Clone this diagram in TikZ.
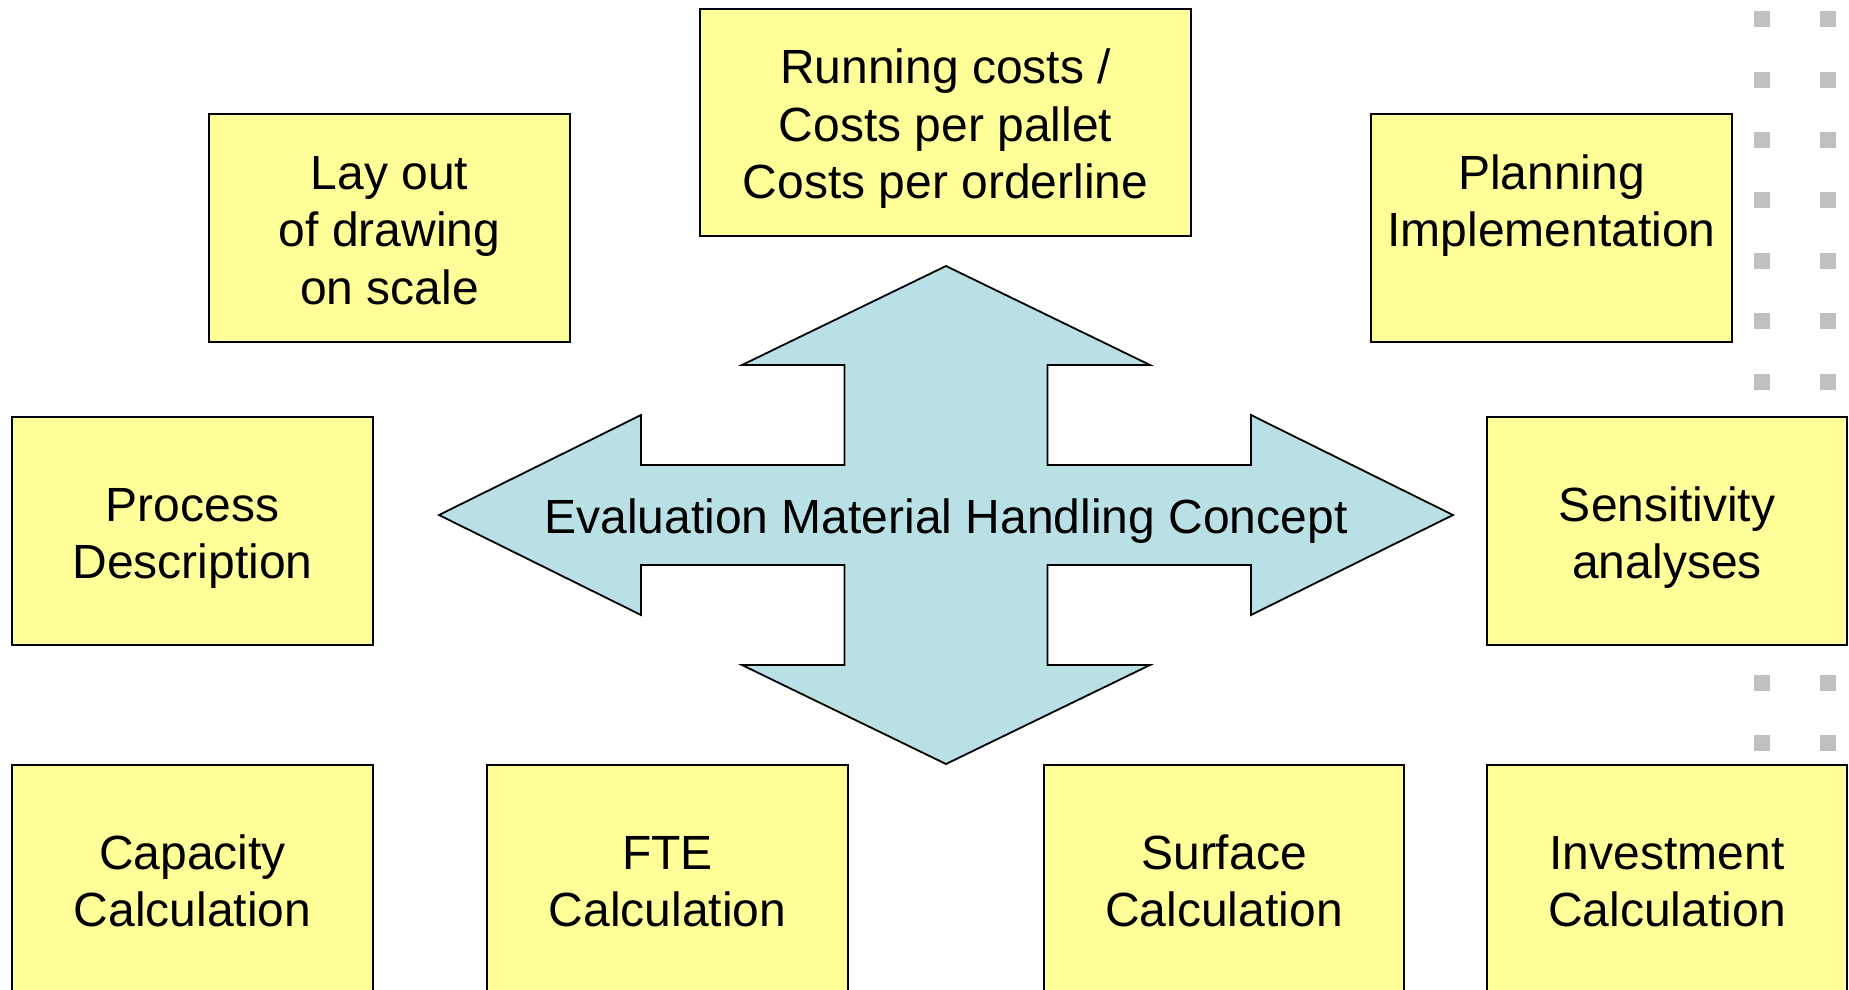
\documentclass[tikz,border=0pt]{standalone}
\usepackage{fontspec}
\setmainfont{Liberation Sans}
\definecolor{boxyellow}{RGB}{255,255,153}
\definecolor{arrowblue}{RGB}{185,224,228}
\definecolor{dotgrey}{RGB}{192,192,192}
\newcommand\linestrut{\rule[-10pt]{0pt}{57.6pt}}
\tikzset{
  infobox/.style={draw=black, line width=1.8pt, fill=boxyellow, align=center,
    minimum width=361pt, minimum height=228pt, inner sep=0pt,
    font=\fontsize{48pt}{57.6pt}\selectfont},
  bigarrow/.style={draw=black, line width=1.8pt, fill=arrowblue, line join=miter},
  greydot/.style={fill=dotgrey, draw=none, minimum size=16pt, inner sep=0pt}
}
\begin{document}
\begin{tikzpicture}[x=1pt, y=-1pt]
\useasboundingbox (0,0) rectangle (1849,989);
% grey dots
\foreach \yy in {19,80,140,200,261,321,382,683,743} {
  \node[greydot] (dl\yy) at (1762,\yy) {};
  \node[greydot] (dr\yy) at (1828,\yy) {};
}
% central four-way arrow
\coordinate (c) at (946,515);
\draw[bigarrow, shift={(946,515)}]
  (0,-249) -- (204,-150) -- (101.5,-150) -- (101.5,-50) -- (305,-50) -- (305,-100)
  -- (507,0) -- (305,100) -- (305,50) -- (101.5,50) -- (101.5,150) -- (204,150)
  -- (0,249) -- (-204,150) -- (-101.5,150) -- (-101.5,50) -- (-305,50) -- (-305,100)
  -- (-507,0) -- (-305,-100) -- (-305,-50) -- (-101.5,-50) -- (-101.5,-150) -- (-204,-150)
  -- cycle;
\node[inner sep=0pt, font=\fontsize{48pt}{57.6pt}\selectfont] (title) at (c) {\linestrut Evaluation Material Handling Concept};
% boxes
\node[infobox, minimum width=491pt, minimum height=227pt] (run) at (945.5,122.5)
  {\linestrut Running costs /\\\linestrut Costs per pallet\\\linestrut Costs per orderline};
\node[infobox] (lay) at (389.5,228) {\linestrut Lay out\\\linestrut of drawing\\\linestrut on scale};
\node[infobox] (plan) at (1551.5,228) {\linestrut Planning\\\linestrut Implementation\\\linestrut};
\node[infobox] (proc) at (192.5,531) {\linestrut Process\\\linestrut Description};
\node[infobox, minimum width=360pt] (sens) at (1667,531) {\linestrut Sensitivity\\\linestrut analyses};
\node[infobox] (cap) at (192.5,879) {\linestrut Capacity\\\linestrut Calculation};
\node[infobox] (fte) at (667.5,879) {\linestrut FTE\\\linestrut Calculation};
\node[infobox, minimum width=360pt] (surf) at (1224,879) {\linestrut Surface\\\linestrut Calculation};
\node[infobox, minimum width=360pt] (inv) at (1667,879) {\linestrut Investment\\\linestrut Calculation};
\end{tikzpicture}
\end{document}
